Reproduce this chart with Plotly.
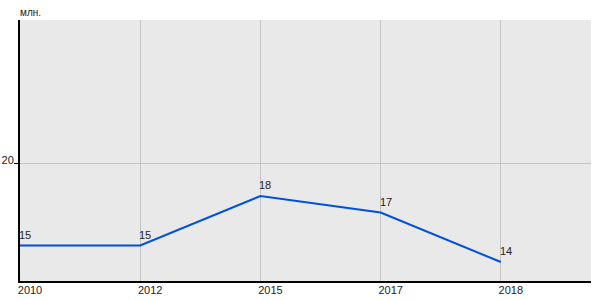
import plotly.graph_objects as go

years = ["2010", "2012", "2015", "2017", "2018"]
values = [15, 15, 18, 17, 14]
y_ticks = [20]

x_idx = list(range(len(years)))

fig = go.Figure()
fig.add_trace(go.Scatter(
    x=x_idx, y=values, mode="lines",
    line=dict(color="#0050e0", width=2),
    hoverinfo="skip",
))

annotations = [dict(
    x=xi, y=v, xref="x", yref="y", text=str(v), showarrow=False,
    xanchor="left", yanchor="bottom", xshift=-3, yshift=3,
    font=dict(family="Arial, Liberation Sans, sans-serif", size=11, color="#222222"),
) for xi, v in zip(x_idx, values)]

annotations.append(dict(
    text="млн.", xref="paper", yref="paper", x=0, y=1, xanchor="left",
    yanchor="bottom", xshift=-2, yshift=0, showarrow=False,
    font=dict(family="Arial, Liberation Sans, sans-serif", size=10, color="#222222"),
))

fig.update_layout(
    width=600, height=300,
    margin=dict(l=20, r=9, t=20, b=19),
    paper_bgcolor="white",
    plot_bgcolor="#e9e9e9",
    showlegend=False,
    font=dict(family="Arial, Liberation Sans, sans-serif", size=11, color="#222222"),
    xaxis=dict(
        range=[0, 4.75], tickmode="array", tickvals=x_idx, ticktext=years,
        showgrid=True, gridcolor="#c4c4c4", gridwidth=1,
        showline=True, linecolor="black", linewidth=2,
        ticks="", zeroline=False, automargin=False,
        ticklabelshift=10, ticklabelstandoff=-2,
        tickfont=dict(size=11, color="#222222"),
    ),
    yaxis=dict(
        range=[12.85, 28.67], tickmode="array", tickvals=y_ticks,
        ticktext=[str(t) for t in y_ticks],
        showgrid=True, gridcolor="#c4c4c4", gridwidth=1,
        showline=True, linecolor="black", linewidth=2,
        ticks="outside", ticklen=4, tickcolor="black",
        zeroline=False, automargin=False,
        ticklabelshift=-3, ticklabelstandoff=-2,
        tickfont=dict(size=11, color="#222222"),
    ),
    annotations=annotations,
)

fig.write_html("out.html")
